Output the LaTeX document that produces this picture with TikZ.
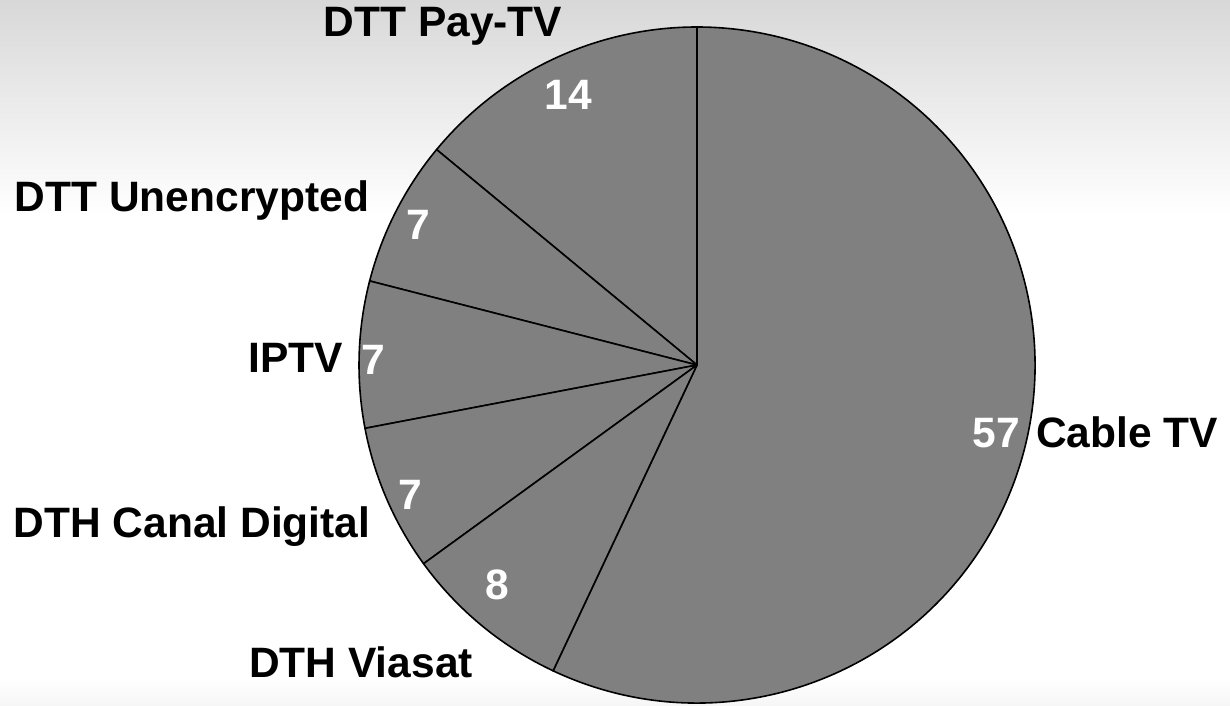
\documentclass[tikz,border=0pt]{standalone}
\usepackage{fontspec}
\setmainfont{Liberation Sans}
\begin{document}
\begin{tikzpicture}[x=1pt,y=1pt,
  slice/.style={fill={rgb,255:red,128;green,128;blue,128}, draw=black, line width=1.6pt, line join=round},
  lbl/.style={font=\fontsize{42.5}{42.5}\selectfont\bfseries, text=black, inner sep=0pt, anchor=base},
  num/.style={font=\fontsize{42.5}{42.5}\selectfont\bfseries, text=white, inner sep=0pt, anchor=base}]
\useasboundingbox (0,0) rectangle (1230,705);
% background
\fill[white] (0,0) rectangle (1230,705);
\shade[top color={rgb,255:red,216;green,216;blue,216}, bottom color=white] (0,490) rectangle (1230,705);
\shade[top color=white, bottom color={rgb,255:red,246;green,246;blue,246}] (0,0) rectangle (1230,28);
% pie
\coordinate (c) at (697,340);
\def\R{338}
\filldraw[slice] (c) -- ++(244.8:\R) arc[start angle=244.8, end angle=450, radius=\R] -- cycle;
\filldraw[slice] (c) -- ++(90:\R) arc[start angle=90, end angle=140.4, radius=\R] -- cycle;
\filldraw[slice] (c) -- ++(140.4:\R) arc[start angle=140.4, end angle=165.6, radius=\R] -- cycle;
\filldraw[slice] (c) -- ++(165.6:\R) arc[start angle=165.6, end angle=190.8, radius=\R] -- cycle;
\filldraw[slice] (c) -- ++(190.8:\R) arc[start angle=190.8, end angle=216, radius=\R] -- cycle;
\filldraw[slice] (c) -- ++(216:\R) arc[start angle=216, end angle=244.8, radius=\R] -- cycle;
% labels
\node[lbl] (lpay) at (443,668) {DTT Pay-TV};
\node[lbl] (lunenc) at (192,493) {DTT Unencrypted};
\node[lbl] (liptv) at (296,333) {IPTV};
\node[lbl] (lcanal) at (192,168) {DTH Canal Digital};
\node[lbl] (lvia) at (361,28) {DTH Viasat};
\node[lbl] (lcable) at (1127,258) {Cable TV};
% values
\node[num] (npay) at (568,595) {14};
\node[num] (nunenc) at (418,465) {7};
\node[num] (niptv) at (373,331) {7};
\node[num] (ncanal) at (410,196) {7};
\node[num] (nvia) at (497,106) {8};
\node[num] (ncable) at (996,258) {57};
\end{tikzpicture}
\end{document}
